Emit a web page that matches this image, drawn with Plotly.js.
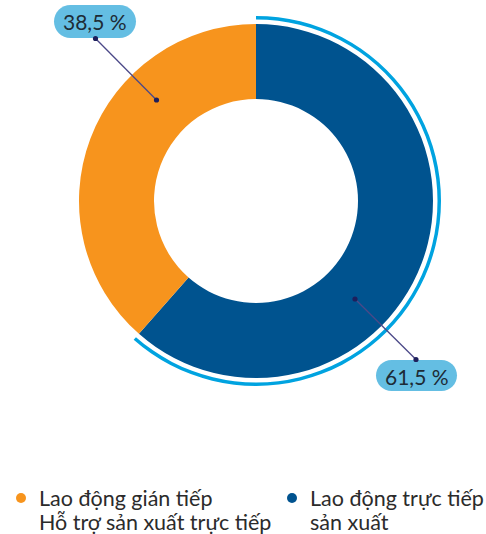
<!DOCTYPE html>
<html>
<head>
<meta charset="utf-8">
<script src="https://cdn.plot.ly/plotly-3.0.1.min.js"></script>
<style>html,body{margin:0;padding:0;background:#fff;}#chart{width:486px;height:534px;}</style>
</head>
<body>
<div id="chart"></div>
<script>
// ---- data ----
const categories = ["Lao động trực tiếp<br>sản xuất", "Lao động gián tiếp<br>Hỗ trợ sản xuất trực tiếp"];
const shares = [61.5, 38.5];
const valueLabels = ["61,5 %", "38,5 %"];
const sliceColors = ["#00538F", "#F7941D"];

// ---- layout helpers ----
const W = 486, H = 534;
const CX = 256, CY = 201;
const R = 177, HOLE_R = 102;
const RING_OUT = 185, RING_IN = 181.5;
const FONT = "Lato, 'Noto Sans', sans-serif";
const px = x => x / W;
const py = y => 1 - y / H;
function dom(r) {
  return { x: [px(CX - r), px(CX + r)], y: [py(CY + r), py(CY - r)] };
}

const donut = {
  type: "pie", values: shares, labels: categories, sort: false,
  direction: "clockwise", rotation: 0, hole: HOLE_R / R,
  marker: { colors: sliceColors, line: { width: 0 } },
  textinfo: "none", hoverinfo: "none", showlegend: false, domain: dom(R)
};
const ring = {
  type: "pie", values: shares, labels: ["ring-a", "ring-b"], sort: false,
  direction: "clockwise", rotation: 0, hole: RING_IN / RING_OUT,
  marker: { colors: ["#00A3E0", "rgba(0,0,0,0)"], line: { width: 0 } },
  textinfo: "none", hoverinfo: "none", showlegend: false, domain: dom(RING_OUT)
};

function pill(cx, cy, w, h, fill) {
  const r = h / 2, k = 0.5523 * r, a = w / 2 - r;
  const p = `M ${-a},${-r} L ${a},${-r} C ${a + k},${-r} ${a + r},${-k} ${a + r},0 C ${a + r},${k} ${a + k},${r} ${a},${r} L ${-a},${r} C ${-a - k},${r} ${-a - r},${k} ${-a - r},0 C ${-a - r},${-k} ${-a - k},${-r} ${-a},${-r} Z`;
  return { type: "path", xref: "paper", yref: "paper", xsizemode: "pixel", ysizemode: "pixel",
    xanchor: px(cx), yanchor: py(cy), path: p, fillcolor: fill, line: { width: 0 }, layer: "above" };
}
function dot(cx, cy, r, color) {
  return { type: "circle", xref: "paper", yref: "paper", xsizemode: "pixel", ysizemode: "pixel",
    xanchor: px(cx), yanchor: py(cy), x0: -r, x1: r, y0: -r, y1: r,
    fillcolor: color, line: { width: 0 }, layer: "above" };
}
function seg(x0, y0, x1, y1) {
  return { type: "line", xref: "paper", yref: "paper", x0: px(x0), y0: py(y0), x1: px(x1), y1: py(y1),
    line: { color: "#4B4888", width: 1.3 }, layer: "above" };
}

const labelBox = [
  { cx: 416.5, cy: 375.5, w: 81, h: 31, from: [355, 299], to: [416, 359.5] },
  { cx: 95, cy: 21.5, w: 82, h: 33, from: [156.5, 100], to: [95.5, 38.5] }
];
const legendPos = [{ dx: 292, tx: 308 }, { dx: 21, tx: 37 }];
const legendLineY = [497.5, 521.5];

const shapes = [], annotations = [];
labelBox.forEach((b, i) => {
  shapes.push(seg(b.from[0], b.from[1], b.to[0], b.to[1]));
  shapes.push(pill(b.cx, b.cy, b.w, b.h, "#64BEE3"));
  shapes.push(dot(b.from[0], b.from[1], 2.6, "#1E1F5C"));
  shapes.push(dot(b.to[0], b.to[1], 2.6, "#1E1F5C"));
  annotations.push({ xref: "paper", yref: "paper", x: px(b.cx), y: py(b.cy + 0.5), xanchor: "center", yanchor: "middle",
    text: valueLabels[i], showarrow: false, font: { family: FONT, size: 21, color: "#1D2B36" } });
});
legendPos.forEach((l, i) => {
  shapes.push(dot(l.dx, 498, 5, sliceColors[i]));
  categories[i].split("<br>").forEach((line, j) => {
    annotations.push({ xref: "paper", yref: "paper", x: px(l.tx), y: py(legendLineY[j]), xanchor: "left", yanchor: "middle",
      align: "left", text: line, showarrow: false,
      font: { family: FONT, size: 21.5, color: "#2B2B2B" } });
  });
});

Plotly.newPlot("chart", [donut, ring], {
  width: W, height: H, margin: { l: 0, r: 0, t: 0, b: 0 },
  paper_bgcolor: "#fff", plot_bgcolor: "#fff", showlegend: false,
  shapes, annotations
}, { staticPlot: true, displayModeBar: false });
</script>
</body>
</html>
